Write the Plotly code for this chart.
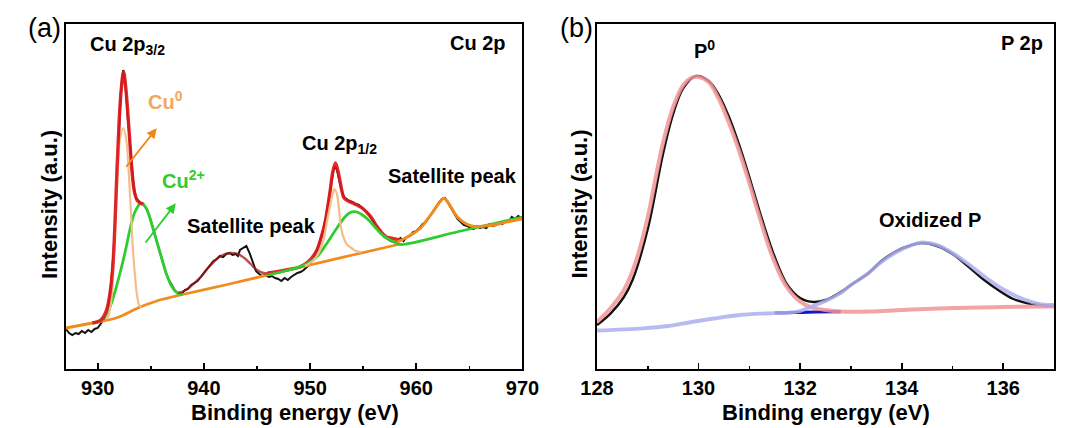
import plotly.graph_objects as go

# ---------------- Panel (a): Cu 2p ----------------
cu_ticks = [930, 940, 950, 960, 970]
cu_minor = [935, 945, 955, 965]

cu_measured = [
    (927.0, 40), (927.3, 36), (927.6, 34), (927.9, 36), (928.2, 35), (928.5, 38), (928.8, 36),
    (929.1, 39), (929.4, 37), (929.7, 40), (930.0, 41), (930.3, 45), (930.6, 50), (930.9, 58),
    (931.2, 78), (931.5, 118), (931.8, 196), (932.0, 248), (932.2, 282), (932.4, 299), (932.6, 285),
    (932.8, 255), (933.0, 228), (933.2, 200), (933.4, 181), (933.6, 171), (933.8, 168), (934.0, 166),
    (934.3, 165), (934.6, 160), (934.9, 152), (935.2, 141), (935.5, 130), (935.8, 119), (936.1, 108),
    (936.4, 97), (936.7, 89), (937.0, 83), (937.3, 78), (937.6, 76), (937.9, 75), (938.2, 79),
    (938.5, 80), (938.8, 84), (939.1, 86), (939.4, 88), (939.7, 92), (940.0, 96), (940.3, 101),
    (940.6, 104), (940.9, 108), (941.2, 110), (941.5, 113), (941.8, 112), (942.1, 115), (942.4, 116),
    (942.7, 114), (943.0, 115), (943.2, 113), (943.4, 119), (943.7, 121), (944.0, 123), (944.3, 116),
    (944.6, 106), (944.9, 98), (945.2, 95), (945.5, 93), (945.8, 94), (946.1, 92), (946.4, 93),
    (946.7, 91), (947.0, 90), (947.3, 88), (947.6, 91), (947.9, 89), (948.2, 92), (948.5, 94),
    (948.8, 96), (949.1, 97), (949.4, 99), (949.7, 102), (950.0, 105), (950.3, 111), (950.6, 118),
    (950.9, 127), (951.2, 138), (951.5, 152), (951.8, 172), (952.0, 186), (952.2, 199), (952.4, 203),
    (952.6, 196), (952.8, 186), (953.0, 177), (953.2, 172), (953.4, 170), (953.7, 168), (954.0, 167),
    (954.3, 165), (954.6, 164), (954.9, 161), (955.2, 158), (955.5, 155), (955.8, 150), (956.1, 145),
    (956.4, 140), (956.7, 136), (957.0, 132), (957.3, 130), (957.6, 128), (957.9, 127), (958.2, 126),
    (958.5, 131), (958.8, 128), (959.1, 132), (959.4, 133), (959.7, 137), (960.0, 138), (960.3, 141),
    (960.6, 145), (960.9, 147), (961.2, 152), (961.5, 157), (961.8, 161), (962.1, 166), (962.4, 170),
    (962.7, 171), (963.0, 166), (963.3, 160), (963.6, 155), (963.9, 150), (964.2, 147), (964.5, 144),
    (964.8, 143), (965.1, 141), (965.4, 140), (965.7, 143), (966.0, 141), (966.3, 142), (966.6, 141),
    (966.9, 145), (967.2, 143), (967.5, 144), (967.8, 146), (968.1, 145), (968.4, 148), (968.7, 147),
    (969.0, 152), (969.3, 150), (969.6, 153), (969.9, 151), (970.0, 152),
]

cu_background = [
    (927, 41), (928, 43), (929, 45), (930, 47), (931, 49), (932, 52), (933, 57), (934, 62),
    (935, 66), (936, 69.5), (937, 72), (938, 74.5), (942, 84), (946, 94), (950, 104),
    (954, 114), (958.5, 125),
]

cu0_32 = [
    (930.8, 50), (931.0, 53), (931.3, 72), (931.6, 130), (931.9, 200), (932.1, 230), (932.4, 241),
    (932.7, 228), (932.9, 200), (933.1, 162), (933.3, 122), (933.5, 94), (933.7, 74), (933.9, 64),
    (934.1, 62),
]

cu2_32 = [
    (929.5, 46), (930.2, 48), (930.9, 56), (931.5, 73), (932.1, 96), (932.6, 118), (933.0, 138),
    (933.5, 157), (934.1, 166), (934.6, 160), (935.16, 142), (935.6, 126), (936.07, 109),
    (936.5, 94), (937.0, 82), (937.5, 76), (938.0, 74.8),
]

env_32 = [
    (929.5, 46), (930.3, 49), (930.8, 58), (931.1, 72), (931.4, 100), (931.6, 140), (931.8, 196),
    (932.0, 245), (932.2, 278), (932.43, 297), (932.65, 280), (932.9, 246), (933.1, 215),
    (933.3, 189), (933.5, 175), (933.7, 169), (934.0, 166), (934.3, 165),
]

sat1_fit = [
    (937.6, 76), (938.3, 79), (939.0, 85), (939.7, 92), (940.3, 100), (941.0, 108), (941.6, 113),
    (942.4, 116), (943.2, 115), (943.8, 111), (944.4, 105), (945.0, 99), (945.6, 96), (946.2, 96),
]

env_12 = [
    (946.0, 96), (947.0, 97.5), (948.0, 99.5), (949.0, 102), (949.8, 107), (950.3, 113),
    (950.65, 119), (951.0, 130), (951.4, 146), (951.7, 165), (951.9, 179), (952.1, 195),
    (952.38, 206), (952.6, 199), (952.8, 189), (953.0, 178), (953.2, 171), (953.6, 168),
    (954.0, 166), (954.4, 164), (954.9, 161), (955.4, 156), (955.8, 151), (956.2, 144),
    (956.7, 137), (957.2, 132), (957.6, 131), (958.0, 130), (958.5, 129),
]

cu0_12 = [
    (949.5, 103), (950.35, 109), (950.9, 118), (951.26, 129), (951.6, 148), (951.86, 162),
    (952.1, 174), (952.3, 180), (952.5, 176), (952.7, 162), (952.9, 142), (953.2, 130),
    (953.5, 124), (953.9, 121), (954.3, 118), (954.8, 117),
]

cu2_12 = [
    (946.0, 94), (948.0, 99), (949.7, 105), (950.7, 113), (951.6, 126), (952.4, 139),
    (953.2, 151), (953.7, 156), (954.2, 157.3), (954.8, 155), (955.5, 149), (956.1, 142),
    (956.7, 135), (957.3, 130.5), (957.9, 127), (958.5, 124.5), (964.0, 137.5), (970.0, 152),
]

sat2_fit = [
    (958.2, 127), (959.0, 131), (959.75, 135.7), (960.4, 141), (961.0, 149), (961.5, 156),
    (961.9, 162.3), (962.3, 168), (962.6, 170.7), (962.9, 168), (963.25, 162.3), (963.85, 152.3),
    (964.6, 145.7), (965.2, 143), (965.8, 142.3), (966.5, 143), (967.3, 144), (968.5, 147),
    (970.0, 150),
]

# ---------------- Panel (b): P 2p ----------------
p_ticks = [128, 130, 132, 134, 136]
p_minor = [129, 131, 133, 135, 137]

p_measured = [
    (128.0, 44), (128.27, 55.7), (128.53, 72), (128.7, 89), (129.0, 140), (129.3, 215),
    (129.5, 255), (129.7, 281), (129.95, 293), (130.2, 288), (130.4, 274), (130.6, 252),
    (130.8, 224), (131.0, 192), (131.2, 158), (131.5, 112), (131.75, 84), (132.0, 71),
    (132.27, 67), (132.5, 69), (132.8, 77), (133.0, 84), (133.35, 96), (133.6, 108),
    (133.9, 118), (134.2, 124), (134.4, 126), (134.7, 123), (135.0, 115), (135.3, 103),
    (135.6, 90), (135.9, 79), (136.2, 70), (136.5, 65.5), (136.8, 63.5), (137.0, 63),
]

p0_fit = [
    (128.0, 47), (128.27, 61), (128.53, 79), (128.75, 105), (129.0, 152), (129.15, 190),
    (129.3, 226), (129.5, 262), (129.7, 284), (129.85, 291), (130.0, 292), (130.2, 287),
    (130.4, 270), (130.6, 246), (130.8, 218), (131.0, 186), (131.2, 152), (131.45, 113),
    (131.7, 85), (131.96, 69), (132.2, 62), (132.5, 59), (132.8, 57.5), (133.4, 57.5),
    (134.0, 59), (135.0, 61), (136.0, 62), (137.0, 62.5),
]

pox_fit = [
    (128.0, 38.5), (128.9, 40.7), (129.4, 43), (129.86, 47), (130.3, 50.5), (130.81, 54),
    (131.3, 55.5), (131.77, 56.3), (132.0, 58), (132.2, 62), (132.5, 68), (132.8, 76),
    (133.0, 84), (133.35, 96), (133.6, 107), (133.9, 117), (134.2, 124), (134.4, 126.5),
    (134.7, 124), (135.0, 116), (135.26, 107), (135.64, 92), (136.02, 79), (136.4, 69.7),
    (136.72, 65), (137.0, 64),
]

pox_base = [(131.5, 56), (131.9, 56.5), (132.3, 57), (132.8, 57.3)]

# ---------------- figure ----------------
W, H = 1072, 428
FONT = "Liberation Sans, Arial, sans-serif"


def pxx(x):
    return x / W


def pxy(y):
    return (H - y) / H


def xs(d):
    return [p[0] for p in d]


def ys(d):
    return [p[1] for p in d]


fig = go.Figure()


def add(d, color, width, xa="x", ya="y", shape="spline", opacity=1.0):
    fig.add_trace(go.Scatter(
        x=xs(d), y=ys(d), mode="lines", xaxis=xa, yaxis=ya, opacity=opacity,
        line=dict(color=color, width=width, shape=shape, smoothing=1.0 if shape == "spline" else None),
        hoverinfo="skip", showlegend=False))


BLACK = "#111111"
ORANGE = "#f08c1e"
LIGHTOR = "#f5be86"
GREEN = "#2fcc2f"
RED = "#e01a1e"

# panel a
add(cu_measured, BLACK, 2.0, shape="linear")
add(cu_background, ORANGE, 2.8)
add(cu2_32, GREEN, 2.8)
add(cu0_32, LIGHTOR, 2.2)
add(env_32, RED, 3.4, opacity=0.92)
add(sat1_fit, "#a01818", 2.4, opacity=0.75)
add(env_12, RED, 3.4, opacity=0.92)
add(cu2_12, GREEN, 2.8)
add(cu0_12, LIGHTOR, 2.2)
add(sat2_fit, ORANGE, 3.0)

# panel b
add(p_measured, BLACK, 2.4, "x2", "y2")
add(pox_base, "#1414c8", 3.2, "x2", "y2")
add(p0_fit, "#f29494", 4.0, "x2", "y2", opacity=0.85)
add(pox_fit, "#aeaef0", 3.8, "x2", "y2", opacity=0.85)

axis_common = dict(
    showline=True, mirror=True, linecolor="black", linewidth=1.8,
    showgrid=False, zeroline=False,
)
xfont = dict(family=FONT, size=20, color="black", weight="bold")

ydom = [pxy(369), pxy(23.5)]
fig.update_layout(
    width=W, height=H, margin=dict(l=0, r=0, t=0, b=0),
    paper_bgcolor="white", plot_bgcolor="white", showlegend=False,
    xaxis=dict(domain=[pxx(50.5), pxx(522)], range=[927, 970], tickmode="array",
               tickvals=cu_ticks, ticks="inside", ticklen=6, tickwidth=1.8, tickcolor="black",
               minor=dict(tickmode="array", tickvals=cu_minor, ticks="inside", ticklen=3.5,
                          tickwidth=1.5, tickcolor="black"),
               tickfont=xfont, anchor="y", **axis_common),
    yaxis=dict(domain=ydom, range=[0, 345.5], showticklabels=False, ticks="", anchor="x",
               **axis_common),
    xaxis2=dict(domain=[pxx(599), pxx(1071)], range=[128, 137], tickmode="array",
                tickvals=p_ticks, ticks="inside", ticklen=6, tickwidth=1.8, tickcolor="black",
                minor=dict(tickmode="array", tickvals=p_minor, ticks="inside", ticklen=3.5,
                           tickwidth=1.5, tickcolor="black"),
                tickfont=xfont, anchor="y2", **axis_common),
    yaxis2=dict(domain=ydom, range=[0, 345.5], showticklabels=False, ticks="", anchor="x2",
                **axis_common),
)

ann = []


def label(text, x, y, size=20, color="black", bold=True, xanchor="center"):
    ann.append(dict(text=text, x=pxx(x), y=pxy(y), xref="paper", yref="paper",
                    showarrow=False, xanchor=xanchor, yanchor="middle",
                    font=dict(family=FONT, size=size, color=color,
                              weight="bold" if bold else "normal")))


# axis titles
label("Binding energy (eV)", 287, 412, size=22)
label("Binding energy (eV)", 835, 412, size=22)
for xpos in (33, 580):
    ann.append(dict(text="Intensity (a.u.)", x=pxx(xpos), y=pxy(204), xref="paper", yref="paper",
                    showarrow=False, textangle=-90, xanchor="center", yanchor="middle",
                    font=dict(family=FONT, size=22, color="black", weight="bold")))

# panel letters
label("(a)", 28.5, 28, size=27, bold=False)
label("(b)", 578, 28, size=27, bold=False)

# panel a labels
label("Cu 2p<sub>3/2</sub>", 114, 46)
label("Cu 2p", 476, 43)
label("Cu<sup>0</sup>", 153, 100, color="#f2a65e")
label("Cu<sup>2+</sup>", 172, 179, color="#2fcc2f")
label("Satellite peak", 242, 226)
label("Cu 2p<sub>1/2</sub>", 333, 145)
label("Satellite peak", 450, 176)

# panel b labels
label("P<sup>0</sup>", 710, 50)
label("Oxidized P", 943, 220)
label("P 2p", 1062, 43, xanchor="right")

# arrows (panel a)
ann.append(dict(x=935.55, y=240.7, ax=932.57, ay=200.7, xref="x", yref="y", axref="x", ayref="y",
                showarrow=True, arrowhead=2, arrowsize=1.1, arrowwidth=1.8, arrowcolor="#f0861a",
                text=""))
ann.append(dict(x=937.35, y=165.7, ax=934.4, ay=125, xref="x", yref="y", axref="x", ayref="y",
                showarrow=True, arrowhead=2, arrowsize=1.1, arrowwidth=1.8, arrowcolor="#2fcc2f",
                text=""))

fig.update_layout(annotations=ann)
fig.write_html(
    "out.html",
    config={"displayModeBar": False, "staticPlot": True},
    post_script="document.body.style.margin='0px';document.body.style.overflow='hidden';",
)
